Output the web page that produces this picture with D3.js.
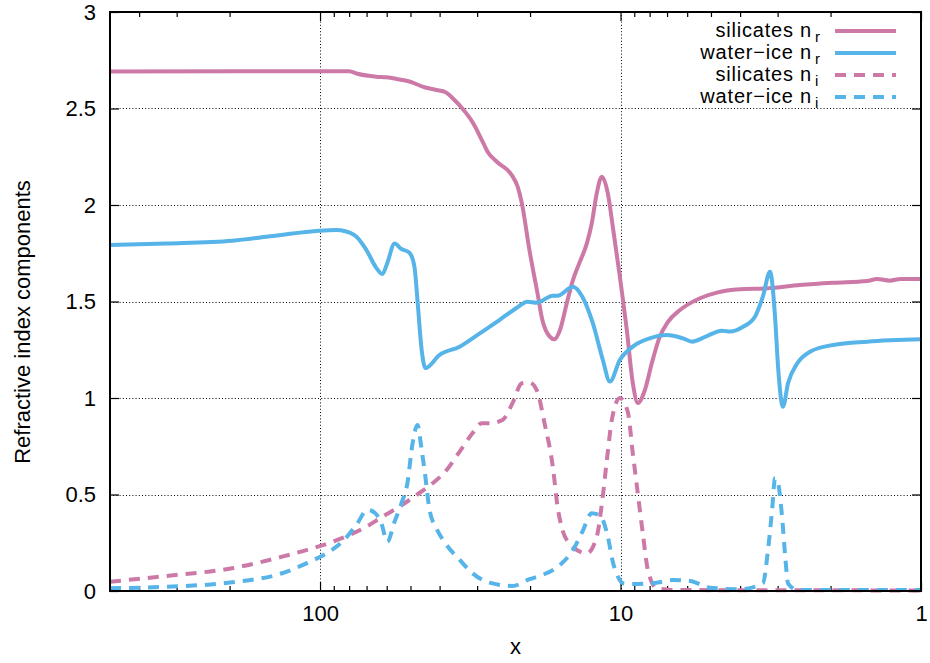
<!DOCTYPE html>
<html>
<head>
<meta charset="utf-8">
<script src="https://cdn.jsdelivr.net/npm/d3@7"></script>
<style>
  html, body { margin: 0; padding: 0; background: #fff; }
  svg { display: block; font-family: "Liberation Sans", Arial, Helvetica, sans-serif; }
</style>
</head>
<body>
<svg id="chart" width="930" height="663"></svg>
<script>
// Refractive index components (wavelength on a reversed log axis)
const silicatesNr = [
  [500, 2.692], [80, 2.693], [75.1, 2.68], [64.9, 2.665], [60.1, 2.662], [54.4, 2.65],
  [50.4, 2.64], [44.9, 2.61], [41.0, 2.596], [38.2, 2.584], [35.7, 2.544], [33.6, 2.50],
  [31.1, 2.43], [28.8, 2.33], [27.7, 2.276], [25.8, 2.224], [23.4, 2.17], [22.9, 2.15],
  [22.0, 2.095], [21.3, 2.01], [20.1, 1.767], [18.9, 1.544], [18.2, 1.404], [17.2, 1.318],
  [16.6, 1.304], [15.9, 1.352], [15.1, 1.49], [14.4, 1.611], [13.7, 1.70], [12.95, 1.80],
  [12.46, 1.906], [12.0, 2.06], [11.54, 2.147], [11.02, 2.06], [10.61, 1.888], [10.05, 1.628],
  [9.53, 1.352], [9.10, 1.077], [8.76, 0.974], [8.30, 1.04], [7.87, 1.18], [7.40, 1.318],
  [6.95, 1.395], [6.34, 1.456], [5.44, 1.517], [4.78, 1.546], [4.00, 1.563], [3.25, 1.568],
  [2.53, 1.585], [1.96, 1.597], [1.51, 1.606], [1.40, 1.617], [1.27, 1.608], [1.17, 1.617],
  [1.0, 1.617]
];

const waterIceNr = [
  [500, 1.793], [325, 1.801], [196, 1.815], [144, 1.839], [100.5, 1.867], [88.25, 1.870],
  [76.9, 1.845], [70.1, 1.767], [64.9, 1.673], [62.0, 1.642], [59.7, 1.70], [56.5, 1.80],
  [53.6, 1.772], [50.4, 1.753], [48.5, 1.68], [47.4, 1.508], [45.9, 1.249], [44.6, 1.155],
  [40.0, 1.223], [34.3, 1.266], [29.4, 1.335], [25.3, 1.404], [22.2, 1.466], [20.4, 1.499],
  [19.0, 1.494], [16.8, 1.53], [16.2, 1.53], [14.4, 1.577], [13.4, 1.525], [12.37, 1.389],
  [11.45, 1.197], [10.85, 1.085], [10.05, 1.197], [9.10, 1.266], [7.99, 1.309], [7.01, 1.326],
  [6.20, 1.309], [5.78, 1.292], [5.16, 1.321], [4.60, 1.349], [4.32, 1.344], [3.91, 1.369],
  [3.57, 1.421], [3.36, 1.525], [3.18, 1.654], [3.06, 1.421], [2.99, 1.162], [2.88, 0.955],
  [2.77, 1.076], [2.58, 1.18], [2.34, 1.24], [1.96, 1.275], [1.51, 1.292], [1.0, 1.304]
];

const silicatesNi = [
  [500, 0.048], [325, 0.078], [196, 0.118], [133.6, 0.178], [108.6, 0.216], [91.0, 0.255],
  [70.1, 0.333], [62.0, 0.385], [54.4, 0.437], [47.8, 0.497], [42.2, 0.558], [37.9, 0.627],
  [34.3, 0.722], [31.1, 0.817], [29.0, 0.869], [27.3, 0.869], [24.7, 0.886], [22.9, 0.972],
  [21.3, 1.076], [20.1, 1.08], [19.0, 1.041], [17.9, 0.869], [16.8, 0.644], [16.2, 0.437],
  [15.6, 0.316], [14.8, 0.247], [12.95, 0.195], [12.0, 0.281], [11.54, 0.45], [11.1, 0.68],
  [10.69, 0.886], [10.05, 1.0], [9.46, 0.929], [9.10, 0.713], [8.76, 0.506], [8.43, 0.299],
  [8.11, 0.109], [7.57, 0.014], [6.49, 0.005], [1.0, 0.003]
];

const waterIceNi = [
  [500, 0.014], [325, 0.022], [196, 0.045], [133.6, 0.092], [111.1, 0.143], [95.3, 0.195],
  [84.3, 0.255], [75.7, 0.342], [69.5, 0.42], [67.5, 0.416], [62.5, 0.351], [59.7, 0.255],
  [56.5, 0.359], [53.6, 0.454], [51.2, 0.558], [49.2, 0.765], [47.4, 0.86], [45.9, 0.731],
  [44.9, 0.627], [43.2, 0.42], [41.0, 0.325], [37.9, 0.238], [34.3, 0.161], [31.1, 0.092],
  [27.3, 0.043], [22.9, 0.026], [20.1, 0.061], [18.2, 0.083], [15.9, 0.135], [14.4, 0.212],
  [13.4, 0.307], [12.46, 0.403], [11.7, 0.39], [11.02, 0.281], [10.61, 0.152], [10.2, 0.074],
  [9.82, 0.04], [9.10, 0.036], [7.80, 0.04], [6.69, 0.057], [5.87, 0.052], [5.04, 0.017],
  [4.00, 0.009], [3.36, 0.04], [3.23, 0.212], [3.13, 0.42], [3.06, 0.584], [2.99, 0.558],
  [2.90, 0.385], [2.83, 0.178], [2.77, 0.04], [2.58, 0.005], [1.0, 0.005]
];

const xMajorTicks = [100, 10, 1];
const xMinorTicks = [400, 300, 200, 90, 80, 70, 60, 50, 40, 30, 20, 9, 8, 7, 6, 5, 4, 3, 2];
const yTicks = [0, 0.5, 1, 1.5, 2, 2.5, 3];

const legendNames = ["silicates n", "water\u2212ice n", "silicates n", "water\u2212ice n"];
const legendSubs = ["r", "r", "i", "i"];

const pink = "#CC79A7";
const blue = "#56B4E9";
const series = [
  { data: silicatesNr, color: pink, dash: null },
  { data: waterIceNr, color: blue, dash: null },
  { data: silicatesNi, color: pink, dash: "11,8" },
  { data: waterIceNi, color: blue, dash: "11,8" }
];

const plotL = 110, plotR = 921, plotT = 12, plotB = 591;
const svg = d3.select("#chart");

const x = d3.scaleLog().domain([500, 1]).range([plotL, plotR]);
const y = d3.scaleLinear().domain([0, 3]).range([plotB, plotT]);

// grid
const grid = svg.append("g").attr("stroke", "#000").attr("stroke-width", 1)
  .attr("stroke-dasharray", "1,2.2");
grid.selectAll("line.gx").data(xMajorTicks.filter(d => d !== 1)).join("line")
  .attr("class", "gx")
  .attr("x1", d => Math.round(x(d)) + 0.5).attr("x2", d => Math.round(x(d)) + 0.5)
  .attr("y1", plotT).attr("y2", plotB);
grid.selectAll("line.gy").data(yTicks.filter(d => d > 0 && d < 3)).join("line")
  .attr("class", "gy")
  .attr("x1", plotL).attr("x2", plotR)
  .attr("y1", d => Math.round(y(d)) + 0.5).attr("y2", d => Math.round(y(d)) + 0.5);

// axes (ticks pointing inward, mirrored on top/right)
const fontSize = 22;
const axBottom = d3.axisBottom(x).tickValues(xMajorTicks).tickFormat(d3.format("d"))
  .tickSizeInner(-9).tickSizeOuter(0).tickPadding(14);
svg.append("g").attr("transform", `translate(0,${plotB})`).call(axBottom);
const axBottomMinor = d3.axisBottom(x).tickValues(xMinorTicks).tickFormat("")
  .tickSizeInner(-5).tickSizeOuter(0);
svg.append("g").attr("transform", `translate(0,${plotB})`).call(axBottomMinor);
const axTop = d3.axisTop(x).tickValues(xMajorTicks).tickFormat("").tickSizeInner(-9).tickSizeOuter(0);
svg.append("g").attr("transform", `translate(0,${plotT})`).call(axTop);
const axTopMinor = d3.axisTop(x).tickValues(xMinorTicks).tickFormat("").tickSizeInner(-5).tickSizeOuter(0);
svg.append("g").attr("transform", `translate(0,${plotT})`).call(axTopMinor);

const axLeft = d3.axisLeft(y).tickValues(yTicks).tickFormat(d3.format("")).tickSizeInner(-9)
  .tickSizeOuter(0).tickPadding(14);
svg.append("g").attr("transform", `translate(${plotL},0)`).call(axLeft);
const axRight = d3.axisRight(y).tickValues(yTicks).tickFormat("").tickSizeInner(-9).tickSizeOuter(0);
svg.append("g").attr("transform", `translate(${plotR},0)`).call(axRight);

svg.selectAll(".domain").remove();
svg.selectAll(".tick line").attr("stroke", "#000").attr("stroke-width", 1.2);
svg.selectAll(".tick text").attr("font-size", fontSize).attr("fill", "#000")
  .attr("font-family", "Liberation Sans, Arial, sans-serif");

// curves
const line = d3.line().x(d => x(d[0])).y(d => y(d[1])).curve(d3.curveMonotoneX);
const curves = svg.append("g").attr("fill", "none");
curves.selectAll("path").data(series).join("path")
  .attr("d", d => line(d.data))
  .attr("stroke", d => d.color)
  .attr("stroke-width", 4)
  .attr("stroke-linejoin", "round")
  .attr("stroke-dasharray", d => d.dash);

// frame
svg.append("rect").attr("x", plotL).attr("y", plotT)
  .attr("width", plotR - plotL).attr("height", plotB - plotT)
  .attr("fill", "none").attr("stroke", "#000").attr("stroke-width", 2);

// axis titles
svg.append("text").attr("x", (plotL + plotR) / 2).attr("y", 654)
  .attr("text-anchor", "middle").attr("font-size", fontSize).text("x");
svg.append("text")
  .attr("transform", "translate(30,322) rotate(-90)")
  .attr("text-anchor", "middle").attr("font-size", fontSize)
  .text("Refractive index components");

// legend: name text plus a lowered, smaller subscript
const legend = svg.append("g");
const rowY = [31, 53, 75, 97];
series.forEach((s, i) => {
  legend.append("text").attr("x", 812).attr("y", rowY[i] + 6)
    .attr("text-anchor", "end").attr("font-size", 20)
    .attr("letter-spacing", 0.8)
    .text(legendNames[i]);
  legend.append("text").attr("x", 815).attr("y", rowY[i] + 11)
    .attr("font-size", 15).text(legendSubs[i]);
  legend.append("line").attr("x1", 835).attr("x2", 896)
    .attr("y1", rowY[i]).attr("y2", rowY[i])
    .attr("stroke", s.color).attr("stroke-width", 4)
    .attr("stroke-dasharray", s.dash);
});
</script>
</body>
</html>
